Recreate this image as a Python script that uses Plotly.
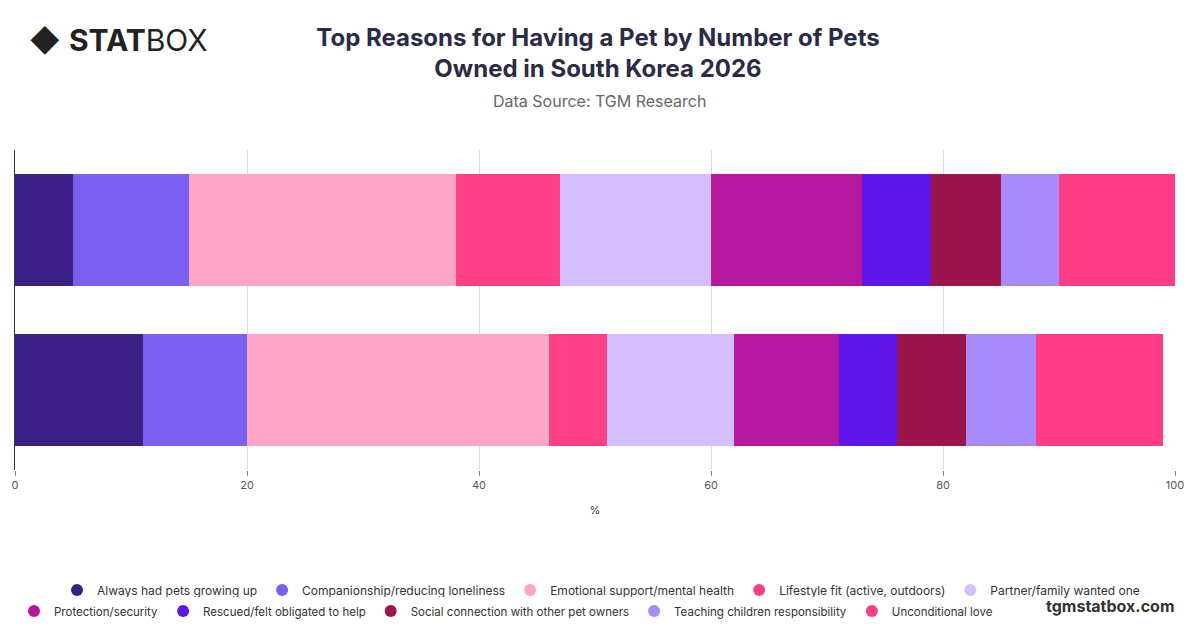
import plotly.graph_objects as go

groups = ["Multiple pets", "One pet"]
reasons = ["Always had pets growing up", "Companionship/reducing loneliness",
           "Emotional support/mental health", "Lifestyle fit (active, outdoors)",
           "Partner/family wanted one", "Protection/security",
           "Rescued/felt obligated to help", "Social connection with other pet owners",
           "Teaching children responsibility", "Unconditional love"]
values = {
    "One pet":       [5, 10, 23, 9, 13, 13, 6, 6, 5, 10],
    "Multiple pets": [11, 9, 26, 5, 11, 9, 5, 6, 6, 11],
}
colors = ["#3a1f86", "#7b5ff0", "#fca5c5", "#ff4086", "#d4bffc",
          "#b5179e", "#5f16ea", "#9b154c", "#a78bfa", "#ff3d87"]

fig = go.Figure()
for i, r in enumerate(reasons):
    fig.add_trace(go.Bar(
        y=groups, x=[values[g][i] for g in groups], name=r, orientation="h",
        marker=dict(color=colors[i], line=dict(width=0)), showlegend=False))
    # legend entry with round marker
    fig.add_trace(go.Scatter(
        x=[None], y=[None], mode="markers", name=r,
        marker=dict(symbol="circle", size=13, color=colors[i]),
        legend="legend" if i < 5 else "legend2"))

# plot area in page pixels: y 150..470, x 14..1174
def py(p):
    return (470 - p) / 320

def px(p):
    return (p - 14) / 1160

leg = dict(orientation="h", xanchor="center", yanchor="middle", itemwidth=30,
           font=dict(size=12, color="#333"), traceorder="normal", itemsizing="constant")
fig.update_layout(
    width=1200, height=628, barmode="stack", bargap=0.3,
    plot_bgcolor="white", paper_bgcolor="white",
    font=dict(family="Inter", color="#333"),
    margin=dict(l=7, r=33, t=142, b=166, autoexpand=False),
    title=dict(text="<b>Top Reasons for Having a Pet by Number of Pets<br>Owned in South Korea 2026</b>",
               x=590 / 1200, y=0.94, xanchor="center", yanchor="top",
               font=dict(size=24, color="#2b2b45")),
    xaxis=dict(range=[0, 100], dtick=20, showgrid=True, gridcolor="#dddddd",
               zeroline=False, title=dict(text="%", font=dict(size=11)), automargin=False,
               tickfont=dict(size=11, color="#555"), ticks="outside", ticklen=5,
               tickcolor="#888"),
    yaxis=dict(showticklabels=False, showline=True, linecolor="#333", linewidth=1,
               automargin=False),
    legend=dict(leg, x=px(600), y=py(590)),
    legend2=dict(leg, x=px(505), y=py(611), font=dict(size=11.5, color="#333")),
    annotations=[
        dict(text="Data Source: TGM Research", x=px(598), y=py(101), xref="paper", yref="paper",
             yanchor="middle", showarrow=False, font=dict(size=16, color="#666"))
    ]
)
fig.add_annotation(text="◆ <b>STAT</b>BOX", xref="paper", yref="paper", x=px(26),
                   y=py(40), xanchor="left", yanchor="middle", showarrow=False,
                   font=dict(size=30, color="#222"))
fig.add_annotation(text="<b>tgmstatbox.com</b>", xref="paper", yref="paper", x=px(1176),
                   y=py(606), xanchor="right", yanchor="middle", showarrow=False,
                   font=dict(size=16, color="#333"))
fig.write_html("out.html")
